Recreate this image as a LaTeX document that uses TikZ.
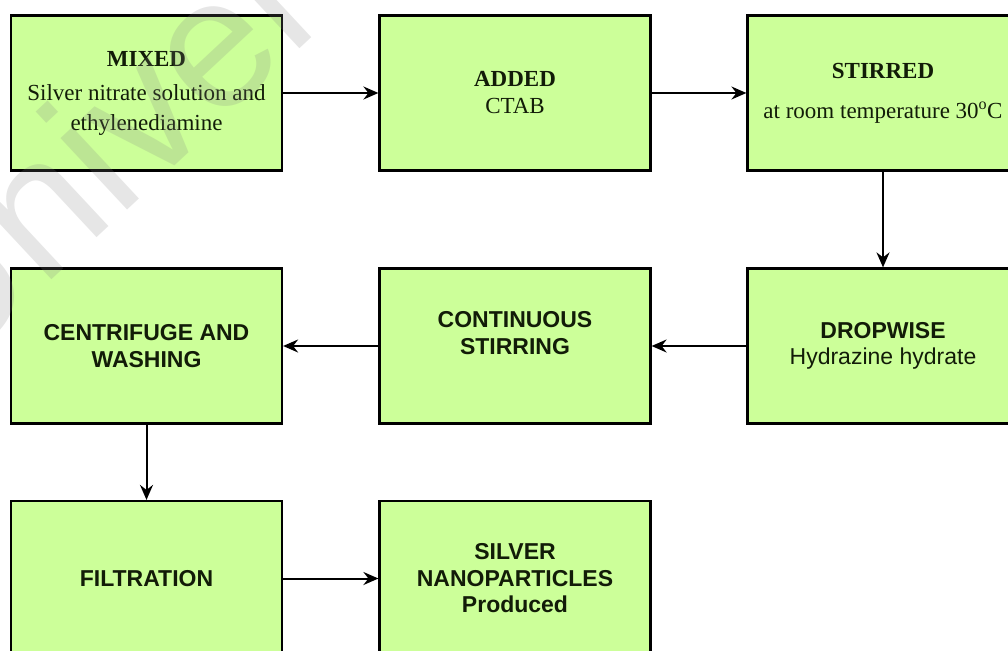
\documentclass[tikz,border=0pt]{standalone}
\usepackage{fontspec}
\setmainfont{Liberation Serif}
\newfontfamily\arialf{Liberation Sans}
\usetikzlibrary{arrows.meta}
\definecolor{boxgreen}{RGB}{204,255,153}
\definecolor{txt}{RGB}{18,28,8}
\begin{document}
\begin{tikzpicture}[x=1pt,y=-1pt,
  box/.style={draw=black, line width=2.2pt, fill=boxgreen, minimum width=271pt, minimum height=155pt, inner sep=0pt, align=center, text=txt},
  serifbox/.style={box, font=\fontsize{23}{30}\selectfont},
  sansbox/.style={box, font=\arialf\fontsize{23}{26.5}\selectfont},
  arr/.style={line width=2pt, -{Stealth[length=15pt,width=13pt,inset=5pt]}}]
\useasboundingbox (0,0) rectangle (1008,650);
\clip (0,0) rectangle (1008,650);
\node[serifbox] (b1) at (146.5,93) {\textbf{MIXED}\\[4pt]Silver nitrate solution and\\ethylenediamine};
\node[serifbox] (b2) at (515,93) {\textbf{ADDED}\\[-3pt]CTAB};
\node[serifbox] (b3) at (883,93) {\textbf{STIRRED}\\[10pt]at room temperature 30\textsuperscript{o}C};
\node[sansbox] (b4) at (883,346) {\textbf{DROPWISE}\\Hydrazine hydrate};
\node[sansbox] (b5) at (515,346) {\textbf{CONTINUOUS}\\\textbf{STIRRING}\\\mbox{}};
\node[sansbox] (b6) at (146.5,346) {\textbf{CENTRIFUGE AND}\\\textbf{WASHING}};
\node[sansbox] (b7) at (146.5,578.5) {\textbf{FILTRATION}};
\node[sansbox] (b8) at (515,578.5) {\textbf{SILVER}\\\textbf{NANOPARTICLES}\\\textbf{Produced}};
\draw[arr] (b1) -- (b2);
\draw[arr] (b2) -- (b3);
\draw[arr] (b3) -- (b4);
\draw[arr] (b4) -- (b5);
\draw[arr] (b5) -- (b6);
\draw[arr] (b6) -- (b7);
\draw[arr] (b7) -- (b8);
\node[rotate=43, anchor=base west, inner sep=0pt, text=gray, opacity=0.2, font=\arialf\fontsize{185}{185}\selectfont] (wm) at (-55,380) {Univer};
\end{tikzpicture}
\end{document}
